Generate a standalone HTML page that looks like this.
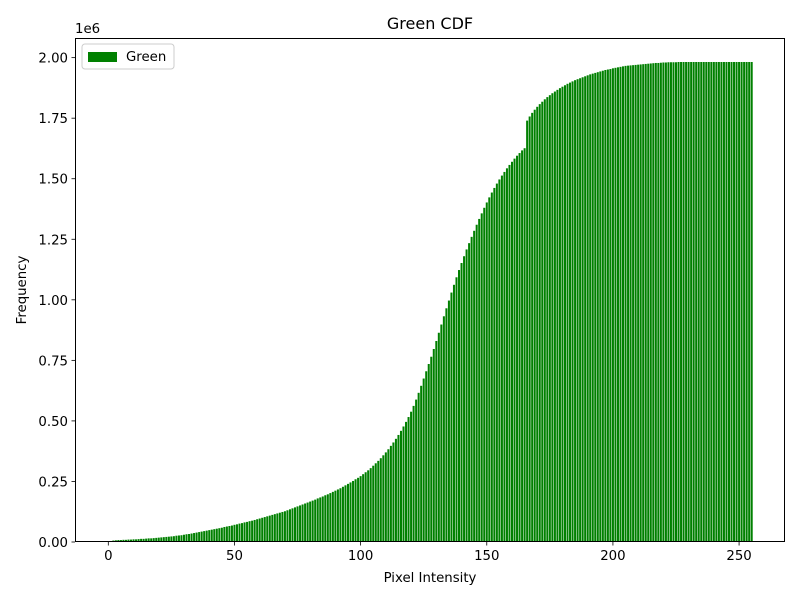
<!DOCTYPE html>
<html><head><meta charset="utf-8"><style>
body{margin:0;background:#fff;}
svg text{font-family:"DejaVu Sans","Liberation Sans",sans-serif;fill:#000;}
</style></head><body>
<svg id="chart" width="800" height="600" xmlns="http://www.w3.org/2000/svg">
<rect width="800" height="600" fill="#fff"/>
<g id="bars"></g>
<g id="axes"></g>
<text x="430" y="29" font-size="16" text-anchor="middle">Green CDF</text>
<text x="430" y="582" font-size="13.3" text-anchor="middle">Pixel Intensity</text>
<text x="26" y="290" font-size="13.3" text-anchor="middle" transform="rotate(-90 26 290)">Frequency</text>
<text x="75" y="33" font-size="13.3">1e6</text>
<g>
<rect x="82" y="44" width="92" height="25" rx="3" fill="#fff" stroke="#ccc"/>
<rect x="88" y="52" width="29" height="10" fill="#008000"/>
<text x="126" y="61" font-size="13.3">Green</text>
</g>
</svg>
<script>
const values = [
0.002,0.004,0.006,0.007,0.008,0.008,0.009,0.009,0.010,0.010,
0.011,0.011,0.012,0.013,0.013,0.014,0.015,0.015,0.016,0.017,
0.018,0.019,0.020,0.021,0.022,0.023,0.024,0.026,0.027,0.028,
0.030,0.032,0.033,0.035,0.037,0.039,0.041,0.043,0.045,0.047,
0.049,0.051,0.053,0.055,0.057,0.059,0.062,0.064,0.066,0.068,
0.071,0.073,0.076,0.078,0.081,0.083,0.086,0.088,0.091,0.094,
0.097,0.100,0.103,0.106,0.109,0.112,0.115,0.118,0.121,0.124,
0.127,0.131,0.135,0.139,0.143,0.147,0.151,0.155,0.159,0.163,
0.167,0.171,0.175,0.180,0.184,0.188,0.193,0.197,0.202,0.207,
0.212,0.217,0.222,0.228,0.234,0.240,0.246,0.252,0.259,0.265,
0.272,0.280,0.288,0.296,0.305,0.315,0.325,0.335,0.346,0.358,
0.370,0.383,0.397,0.411,0.426,0.442,0.459,0.477,0.496,0.516,
0.538,0.562,0.588,0.616,0.645,0.675,0.705,0.735,0.765,0.797,
0.830,0.864,0.898,0.932,0.965,0.997,1.030,1.062,1.093,1.123,
1.152,1.180,1.208,1.234,1.260,1.285,1.310,1.334,1.357,1.380,
1.402,1.423,1.443,1.462,1.480,1.497,1.513,1.528,1.543,1.557,
1.570,1.583,1.595,1.606,1.617,1.626,1.740,1.757,1.772,1.785,
1.797,1.808,1.818,1.828,1.837,1.845,1.853,1.860,1.867,1.874,
1.880,1.886,1.892,1.897,1.902,1.907,1.911,1.915,1.919,1.923,
1.927,1.931,1.934,1.937,1.940,1.943,1.946,1.949,1.951,1.953,
1.956,1.958,1.960,1.962,1.964,1.966,1.967,1.968,1.969,1.970,
1.971,1.972,1.973,1.974,1.975,1.976,1.977,1.978,1.978,1.979,
1.980,1.980,1.981,1.981,1.981,1.981,1.982,1.982,1.982,1.982,
1.982,1.982,1.982,1.982,1.982,1.982,1.982,1.982,1.982,1.982,
1.982,1.982,1.982,1.982,1.982,1.982,1.982,1.982,1.982,1.982,
1.982,1.982,1.982,1.982,1.982,1.982
];
const xTicks = [0,50,100,150,200,250];
const yTicks = [0,0.25,0.5,0.75,1.0,1.25,1.5,1.75,2.0];
const yTickLabels = ["0.00","0.25","0.50","0.75","1.00","1.25","1.50","1.75","2.00"];

const NS = "http://www.w3.org/2000/svg";
const L=75,R=785,T=38,B=542;
const xMin=-13.2,xMax=268.2,yMin=0,yMax=2.0811;
const xs=v=>L+(v-xMin)/(xMax-xMin)*(R-L);
const ys=v=>B-(v-yMin)/(yMax-yMin)*(B-T);
function mk(tag,attrs){const e=document.createElementNS(NS,tag);for(const k in attrs)e.setAttribute(k,attrs[k]);return e;}
const bars=document.getElementById('bars');
values.forEach((v,i)=>{
  const x0=xs(i-0.4),x1=xs(i+0.4);
  const r=mk('rect',{x:x0,y:ys(v),width:x1-x0,height:ys(0)-ys(v),fill:'#008000'});
  
  
  bars.appendChild(r);
});
const axes=document.getElementById('axes');
const frame=mk('rect',{x:L+0.5,y:T+0.5,width:R-L-1,height:B-T-1,fill:'none',stroke:'#000','stroke-width':1});


axes.appendChild(frame);
xTicks.forEach(t=>{
  const x=xs(t);
  const ln=mk('line',{x1:x,x2:x,y1:B,y2:B+3.5,stroke:'#000','stroke-width':0.8});
  
  
  axes.appendChild(ln);
  const tx=mk('text',{x:x,y:B+18,'font-size':13.3,'text-anchor':'middle'});
  tx.textContent=String(t);
  
  
  axes.appendChild(tx);
});
yTicks.forEach((t,i)=>{
  const y=ys(t);
  const ln=mk('line',{x1:L-3.5,x2:L,y1:y,y2:y,stroke:'#000','stroke-width':0.8});
  
  
  axes.appendChild(ln);
  const tx=mk('text',{x:L-7,y:y+5,'font-size':13.3,'text-anchor':'end'});
  tx.textContent=yTickLabels[i];
  
  
  axes.appendChild(tx);
});
</script>
</body></html>
